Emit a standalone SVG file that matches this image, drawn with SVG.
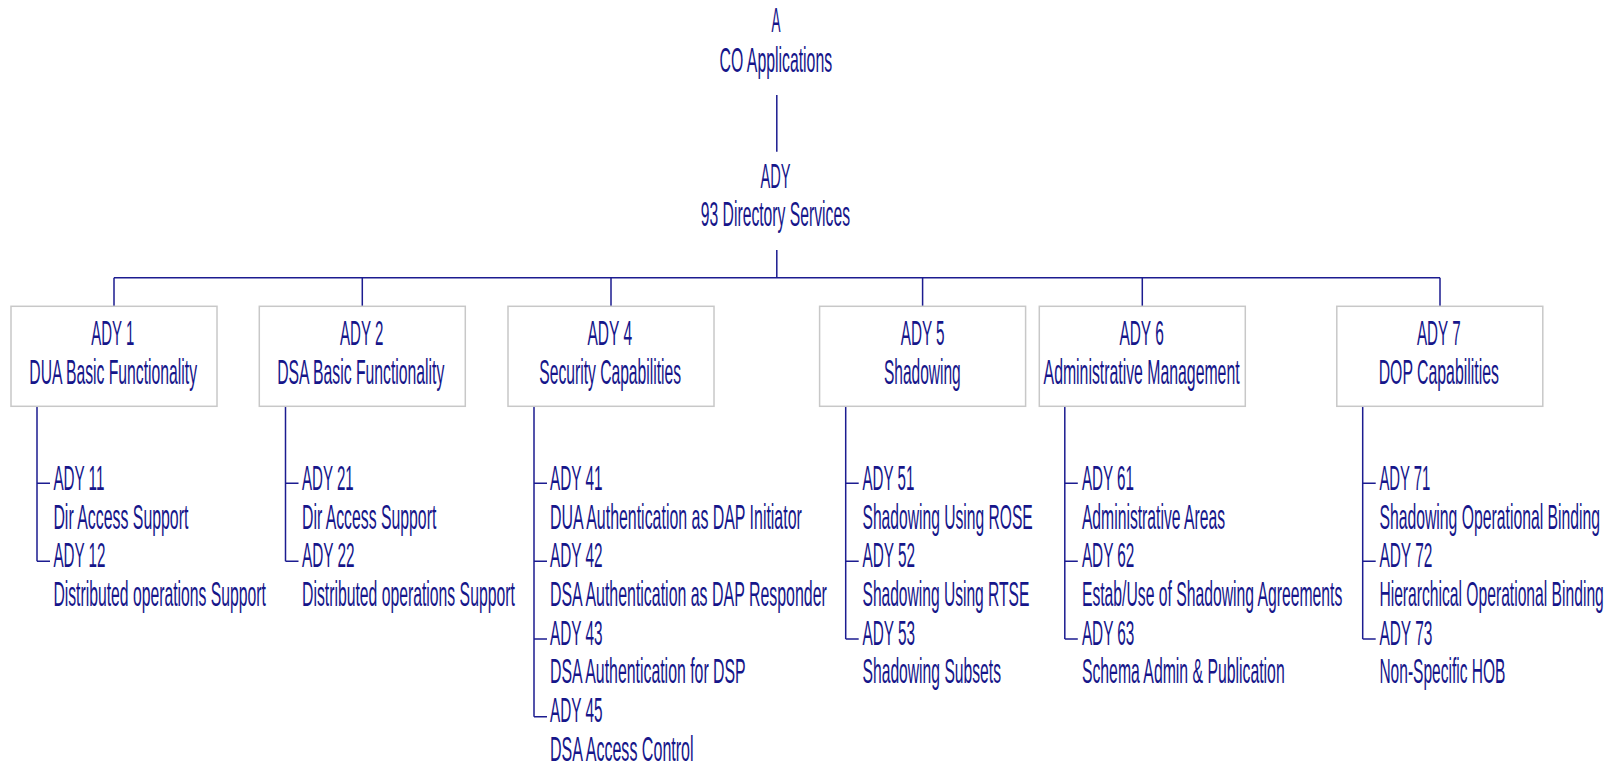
<svg xmlns="http://www.w3.org/2000/svg" width="1611" height="767" viewBox="0 0 1611 767">
  <style>
    text { font-family: "Liberation Sans", Arial, sans-serif; font-size: 35px; fill: #16168a; }
    .box { fill: #ffffff; stroke: #c8c8c8; stroke-width: 1.5; }
    .wire { fill: none; stroke: #1c1c90; stroke-width: 1.5; }
  </style>
  <rect width="1611" height="767" fill="#ffffff"/>

  <!-- connectors -->
  <g id="connectors" class="wire">
    <path class="wire" d="M776.8 95 V151.7 M776.8 250 V277.7"/>
    <path class="wire" d="M114 277.7 H1440"/>
    <path class="wire" d="M114 277.7 V306.3 M362.3 277.7 V306.3 M611 277.7 V306.3 M922.6 277.7 V306.3 M1142.3 277.7 V306.3 M1440 277.7 V306.3"/>
    <!-- sub-item trees -->
    <path class="wire" d="M37 406.3 V561.3 M37 483.3 H50 M37 561.3 H50"/>
    <path class="wire" d="M285.5 406.3 V561.3 M285.5 483.3 H298.5 M285.5 561.3 H298.5"/>
    <path class="wire" d="M534 406.3 V716.7 M534 483.3 H547 M534 561.3 H547 M534 639 H547 M534 716.7 H547"/>
    <path class="wire" d="M845.7 406.3 V639 M845.7 483.3 H858.7 M845.7 561.3 H858.7 M845.7 639 H858.7"/>
    <path class="wire" d="M1064.8 406.3 V639 M1064.8 483.3 H1077.8 M1064.8 561.3 H1077.8 M1064.8 639 H1077.8"/>
    <path class="wire" d="M1362.7 406.3 V639 M1362.7 483.3 H1375.7 M1362.7 561.3 H1375.7 M1362.7 639 H1375.7"/>
  </g>

  <!-- top level -->
  <g id="node-a">
    <text x="771.4" y="32.3" textLength="9" lengthAdjust="spacingAndGlyphs">A</text>
    <text x="719.6" y="71.7" textLength="112.5" lengthAdjust="spacingAndGlyphs">CO Applications</text>
  </g>
  <g id="node-ady">
    <text x="760.5" y="188" textLength="30" lengthAdjust="spacingAndGlyphs">ADY</text>
    <text x="700.8" y="226.3" textLength="149.2" lengthAdjust="spacingAndGlyphs">93 Directory Services</text>
  </g>

  <!-- second level boxes -->
  <g id="node-ady1">
    <rect class="box" x="11" y="306.3" width="206" height="100"/>
    <text x="91.3" y="345" textLength="43" lengthAdjust="spacingAndGlyphs">ADY 1</text>
    <text x="29.3" y="383.5" textLength="167.7" lengthAdjust="spacingAndGlyphs">DUA Basic Functionality</text>
  </g>
  <g id="node-ady2">
    <rect class="box" x="259.3" y="306.3" width="206" height="100"/>
    <text x="340" y="345" textLength="43.3" lengthAdjust="spacingAndGlyphs">ADY 2</text>
    <text x="277.2" y="383.5" textLength="167.1" lengthAdjust="spacingAndGlyphs">DSA Basic Functionality</text>
  </g>
  <g id="node-ady4">
    <rect class="box" x="508" y="306.3" width="206" height="100"/>
    <text x="587.5" y="345" textLength="44.6" lengthAdjust="spacingAndGlyphs">ADY 4</text>
    <text x="539.3" y="383.5" textLength="141.7" lengthAdjust="spacingAndGlyphs">Security Capabilities</text>
  </g>
  <g id="node-ady5">
    <rect class="box" x="819.6" y="306.3" width="206" height="100"/>
    <text x="900.7" y="345" textLength="43.9" lengthAdjust="spacingAndGlyphs">ADY 5</text>
    <text x="883.9" y="383.5" textLength="76.8" lengthAdjust="spacingAndGlyphs">Shadowing</text>
  </g>
  <g id="node-ady6">
    <rect class="box" x="1039.3" y="306.3" width="206" height="100"/>
    <text x="1119.4" y="345" textLength="44.4" lengthAdjust="spacingAndGlyphs">ADY 6</text>
    <text x="1043.6" y="383.5" textLength="196" lengthAdjust="spacingAndGlyphs">Administrative Management</text>
  </g>
  <g id="node-ady7">
    <rect class="box" x="1336.8" y="306.3" width="206" height="100"/>
    <text x="1417" y="345" textLength="43.6" lengthAdjust="spacingAndGlyphs">ADY 7</text>
    <text x="1378.7" y="383.5" textLength="120.2" lengthAdjust="spacingAndGlyphs">DOP Capabilities</text>
  </g>

  <!-- third level items -->
  <g id="node-ady11">
    <text x="53.4" y="490" textLength="51" lengthAdjust="spacingAndGlyphs">ADY 11</text>
    <text x="53.4" y="528.7" textLength="135" lengthAdjust="spacingAndGlyphs">Dir Access Support</text>
  </g>
  <g id="node-ady12">
    <text x="53.4" y="567.3" textLength="52" lengthAdjust="spacingAndGlyphs">ADY 12</text>
    <text x="53.4" y="606" textLength="212.5" lengthAdjust="spacingAndGlyphs">Distributed operations Support</text>
  </g>

  <g id="node-ady21">
    <text x="302" y="490" textLength="51.7" lengthAdjust="spacingAndGlyphs">ADY 21</text>
    <text x="302" y="528.7" textLength="134.3" lengthAdjust="spacingAndGlyphs">Dir Access Support</text>
  </g>
  <g id="node-ady22">
    <text x="302" y="567.3" textLength="52.5" lengthAdjust="spacingAndGlyphs">ADY 22</text>
    <text x="302" y="606" textLength="212.8" lengthAdjust="spacingAndGlyphs">Distributed operations Support</text>
  </g>

  <g id="node-ady41">
    <text x="550" y="490" textLength="52.5" lengthAdjust="spacingAndGlyphs">ADY 41</text>
    <text x="550" y="528.7" textLength="251.8" lengthAdjust="spacingAndGlyphs">DUA Authentication as DAP Initiator</text>
  </g>
  <g id="node-ady42">
    <text x="550" y="567.3" textLength="52.5" lengthAdjust="spacingAndGlyphs">ADY 42</text>
    <text x="550" y="606" textLength="276.8" lengthAdjust="spacingAndGlyphs">DSA Authentication as DAP Responder</text>
  </g>
  <g id="node-ady43">
    <text x="550" y="644.7" textLength="52.5" lengthAdjust="spacingAndGlyphs">ADY 43</text>
    <text x="550" y="683.3" textLength="195.7" lengthAdjust="spacingAndGlyphs">DSA Authentication for DSP</text>
  </g>
  <g id="node-ady45">
    <text x="550" y="722" textLength="52.5" lengthAdjust="spacingAndGlyphs">ADY 45</text>
    <text x="550" y="760.7" textLength="143.6" lengthAdjust="spacingAndGlyphs">DSA Access Control</text>
  </g>

  <g id="node-ady51">
    <text x="862.5" y="490" textLength="51.8" lengthAdjust="spacingAndGlyphs">ADY 51</text>
    <text x="862.5" y="528.7" textLength="170.3" lengthAdjust="spacingAndGlyphs">Shadowing Using ROSE</text>
  </g>
  <g id="node-ady52">
    <text x="862.5" y="567.3" textLength="52.5" lengthAdjust="spacingAndGlyphs">ADY 52</text>
    <text x="862.5" y="606" textLength="166.8" lengthAdjust="spacingAndGlyphs">Shadowing Using RTSE</text>
  </g>
  <g id="node-ady53">
    <text x="862.5" y="644.7" textLength="52.5" lengthAdjust="spacingAndGlyphs">ADY 53</text>
    <text x="862.5" y="683.3" textLength="138.5" lengthAdjust="spacingAndGlyphs">Shadowing Subsets</text>
  </g>

  <g id="node-ady61">
    <text x="1081.9" y="490" textLength="52" lengthAdjust="spacingAndGlyphs">ADY 61</text>
    <text x="1081.9" y="528.7" textLength="143.1" lengthAdjust="spacingAndGlyphs">Administrative Areas</text>
  </g>
  <g id="node-ady62">
    <text x="1081.9" y="567.3" textLength="52.5" lengthAdjust="spacingAndGlyphs">ADY 62</text>
    <text x="1081.9" y="606" textLength="260.4" lengthAdjust="spacingAndGlyphs">Estab/Use of Shadowing Agreements</text>
  </g>
  <g id="node-ady63">
    <text x="1081.9" y="644.7" textLength="52.5" lengthAdjust="spacingAndGlyphs">ADY 63</text>
    <text x="1081.9" y="683.3" textLength="202.8" lengthAdjust="spacingAndGlyphs">Schema Admin &amp; Publication</text>
  </g>

  <g id="node-ady71">
    <text x="1379.4" y="490" textLength="51" lengthAdjust="spacingAndGlyphs">ADY 71</text>
    <text x="1379.4" y="528.7" textLength="220.7" lengthAdjust="spacingAndGlyphs">Shadowing Operational Binding</text>
  </g>
  <g id="node-ady72">
    <text x="1379.4" y="567.3" textLength="53" lengthAdjust="spacingAndGlyphs">ADY 72</text>
    <text x="1379.4" y="606" textLength="224.4" lengthAdjust="spacingAndGlyphs">Hierarchical Operational Binding</text>
  </g>
  <g id="node-ady73">
    <text x="1379.4" y="644.7" textLength="53" lengthAdjust="spacingAndGlyphs">ADY 73</text>
    <text x="1379.4" y="683.3" textLength="126" lengthAdjust="spacingAndGlyphs">Non-Specific HOB</text>
  </g>
</svg>
